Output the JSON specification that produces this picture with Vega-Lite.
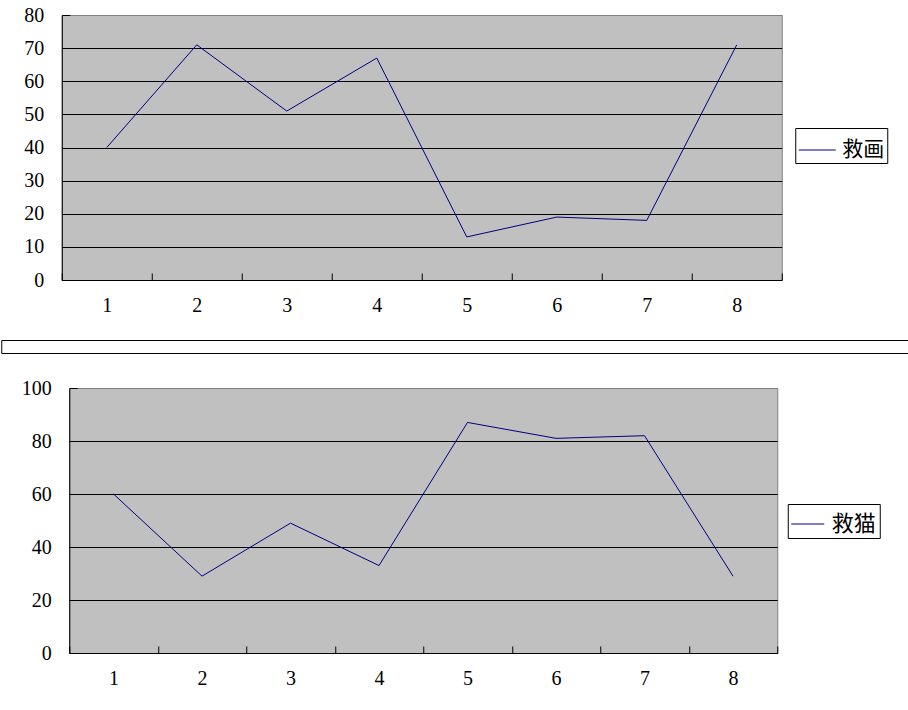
{
  "$schema": "https://vega.github.io/schema/vega-lite/v6.json",
  "padding": {"left": 0, "top": 4, "right": 0, "bottom": 0},
  "spacing": 23,
  "center": true,
  "background": "white",
  "datasets": {
    "hua": [
      {"x": "1", "v": 40, "series": "救画"},
      {"x": "2", "v": 71, "series": "救画"},
      {"x": "3", "v": 51, "series": "救画"},
      {"x": "4", "v": 67, "series": "救画"},
      {"x": "5", "v": 13, "series": "救画"},
      {"x": "6", "v": 19, "series": "救画"},
      {"x": "7", "v": 18, "series": "救画"},
      {"x": "8", "v": 71, "series": "救画"}
    ],
    "mao": [
      {"x": "1", "v": 60, "series": "救猫"},
      {"x": "2", "v": 29, "series": "救猫"},
      {"x": "3", "v": 49, "series": "救猫"},
      {"x": "4", "v": 33, "series": "救猫"},
      {"x": "5", "v": 87, "series": "救猫"},
      {"x": "6", "v": 81, "series": "救猫"},
      {"x": "7", "v": 82, "series": "救猫"},
      {"x": "8", "v": 29, "series": "救猫"}
    ],
    "blank": [{}]
  },
  "vconcat": [
    {
      "width": 720,
      "height": 265,
      "view": {"fill": "#C0C0C0", "stroke": "#808080"},
      "data": {"name": "hua"},
      "mark": {"type": "line", "strokeWidth": 1},
      "encoding": {
        "x": {
          "field": "x", "type": "ordinal", "bandPosition": 0.5,
          "scale": {"type": "band", "paddingInner": 0, "paddingOuter": 0},
          "axis": {"title": null, "labelAngle": 0, "tickBand": "extent", "tickSize": -7, "tickColor": "black", "domainColor": "black", "labelFont": "Liberation Serif", "labelFontSize": 20, "labelColor": "black", "labelPadding": 22, "grid": false}
        },
        "y": {
          "field": "v", "type": "quantitative",
          "scale": {"domain": [0, 80], "nice": false},
          "axis": {"values": [0, 10, 20, 30, 40, 50, 60, 70, 80], "title": null, "labelFont": "Liberation Serif", "labelFontSize": 20, "labelColor": "black", "labelPadding": 26, "tickSize": -8, "tickColor": "black", "domainColor": "black", "grid": true, "gridOpacity": 1, "gridColor": {"condition": {"test": "datum.value === 80", "value": "#808080"}, "value": "black"}}
        },
        "color": {
          "field": "series", "type": "nominal",
          "scale": {"range": ["#000080"]},
          "legend": {"title": null, "orient": "none", "legendX": 733.5, "legendY": 113, "strokeColor": "black", "fillColor": "white", "padding": 3, "symbolType": "stroke", "symbolSize": 1369, "symbolStrokeWidth": 1, "labelFont": "Noto Sans CJK SC", "labelFontSize": 21, "labelColor": "black", "labelOffset": 6}
        }
      }
    },
    {
      "width": 947,
      "height": 13,
      "view": {"stroke": "black", "fill": null, "strokeWidth": 1},
      "data": {"name": "blank"},
      "mark": {"type": "rect", "opacity": 0},
      "encoding": {}
    },
    {
      "width": 708,
      "height": 265,
      "view": {"fill": "#C0C0C0", "stroke": "#808080"},
      "data": {"name": "mao"},
      "mark": {"type": "line", "strokeWidth": 1},
      "encoding": {
        "x": {
          "field": "x", "type": "ordinal", "bandPosition": 0.5,
          "scale": {"type": "band", "paddingInner": 0, "paddingOuter": 0},
          "axis": {"title": null, "labelAngle": 0, "tickBand": "extent", "tickSize": -7, "tickColor": "black", "domainColor": "black", "labelFont": "Liberation Serif", "labelFontSize": 20, "labelColor": "black", "labelPadding": 22, "grid": false}
        },
        "y": {
          "field": "v", "type": "quantitative",
          "scale": {"domain": [0, 100], "nice": false},
          "axis": {"values": [0, 20, 40, 60, 80, 100], "title": null, "labelFont": "Liberation Serif", "labelFontSize": 20, "labelColor": "black", "labelPadding": 26, "tickSize": -8, "tickColor": "black", "domainColor": "black", "grid": true, "gridOpacity": 1, "gridColor": {"condition": {"test": "datum.value === 100", "value": "#808080"}, "value": "black"}}
        },
        "color": {
          "field": "series", "type": "nominal",
          "scale": {"range": ["#000080"]},
          "legend": {"title": null, "orient": "none", "legendX": 718.5, "legendY": 116, "strokeColor": "black", "fillColor": "white", "padding": 3, "symbolType": "stroke", "symbolSize": 1089, "symbolStrokeWidth": 1, "labelFont": "Noto Sans CJK SC", "labelFontSize": 22, "labelColor": "black", "labelOffset": 7}
        }
      }
    }
  ],
  "resolve": {"scale": {"color": "independent", "x": "independent", "y": "independent"}, "legend": {"color": "independent"}, "axis": {"x": "independent", "y": "independent"}},
  "config": {
    "axis": {"domainWidth": 1, "tickWidth": 1, "gridWidth": 1},
    "legend": {"strokeWidth": 1}
  }
}
